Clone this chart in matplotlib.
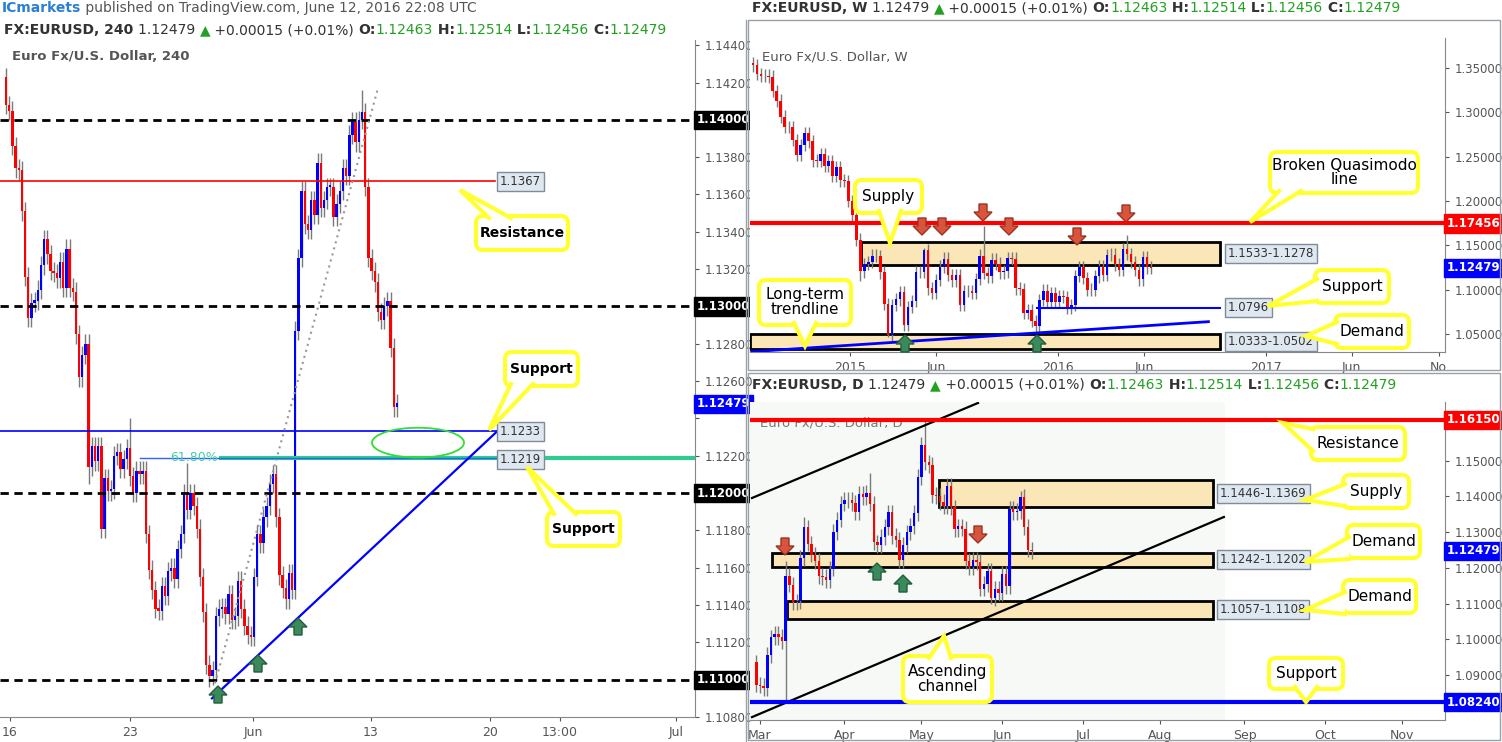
import numpy as np
import pandas as pd
import matplotlib
matplotlib.use("Agg")
import matplotlib.pyplot as plt
from matplotlib.patches import Rectangle, Ellipse, FancyBboxPatch, Polygon
import matplotlib.transforms as mtrans
import matplotlib.dates as mdates

plt.rcParams['font.family'] = ['DejaVu Sans']

# ---------------- data ----------------
h4_open0 = 1.1423
h4_close = [1.1408,1.1405,1.1386,1.1374,1.1373,1.1351,1.1316,1.1294,1.1302,1.1303,
            1.1309,1.1322,1.1336,1.1328,1.1319,1.1318,1.1315,1.1324,1.1310,1.1331,
            1.1310,1.1308,1.1285,1.1262,1.1274,1.1280,1.1214,1.1225,1.1217,1.1225,
            1.1181,1.1208,1.1201,1.1202,1.1220,1.1222,1.1213,1.1218,1.1224,1.1209,
            1.1200,1.1212,1.1210,1.1212,1.1178,1.1159,1.1148,1.1138,1.1137,1.1150,
            1.1145,1.1158,1.1160,1.1154,1.1170,1.1178,1.1200,1.1191,1.1200,1.1193,
            1.1181,1.1155,1.1136,1.1108,1.1102,1.1105,1.1134,1.1138,1.1139,1.1135,
            1.1146,1.1132,1.1134,1.1153,1.1138,1.1129,1.1124,1.1123,1.1155,1.1178,
            1.1173,1.1187,1.1193,1.1205,1.1210,1.1187,1.1156,1.1149,1.1143,1.1157,
            1.1148,1.1287,1.1326,1.1362,1.1344,1.1341,1.1357,1.1349,1.1377,1.1353,
            1.1357,1.1364,1.1364,1.1348,1.1355,1.1362,1.1374,1.1370,1.1392,1.1399,
            1.1388,1.1400,1.1404,1.1364,1.1326,1.1319,1.1313,1.1297,1.1293,1.1300,
            1.1303,1.1278,1.1246,1.1248]
h4_wick_over = {0: (1.1428, None), 64: (None, 1.1096), 112: (1.1416, None),
                39: (1.1240, None), 57: (1.1216, None), 26: (None, 1.1205)}
h4_xticks = ["16", "23", "Jun", "13", "20", "13:00", "Jul"]

w_open0 = 1.3555
w_close = [1.3525,1.3430,1.3410,1.3410,1.3400,1.3240,1.3130,1.2950,1.2830,1.2835,1.2685,1.2520,
           1.2630,1.2760,1.2670,1.2455,1.2450,1.2525,1.2390,1.2450,1.2285,1.2380,1.2230,1.2225,1.2000,
           1.1840,1.1565,1.1205,1.1290,1.1315,1.1385,1.1380,1.1195,1.0840,1.0495,1.0825,1.0890,1.0970,
           1.0600,1.0805,1.0870,1.1200,1.1200,1.1445,1.1015,1.0960,1.1110,1.1260,1.1350,1.1165,1.1105,
           1.1160,1.0830,1.0985,1.0985,1.0965,1.1120,1.1385,1.1185,1.1150,1.1340,1.1295,1.1195,1.1205,
           1.1360,1.1350,1.1015,1.1005,1.0740,1.0770,1.0645,1.0590,1.0885,1.0990,1.0865,1.0965,1.0860,
           1.0925,1.0915,1.0795,1.0830,1.1155,1.1255,1.1130,1.1000,1.1000,1.1150,1.1270,1.1165,1.1390,
           1.1395,1.1285,1.1225,1.1455,1.1405,1.1310,1.1225,1.1115,1.1365,1.1250,1.1248]
w_wick_over = {34: (None, 1.0462), 58: (1.1714, None), 94: (1.1616, None), 72: (None, 1.0524),
               27: (None, 1.1098), 43: (1.1467, None)}

d_open0 = 1.0935
d_close = [1.0873,
           1.0870,1.0864,1.0955,1.1005,1.1014,1.1007,1.0995,1.1177,1.1153,1.1105,1.1106,1.1227,1.1313,
           1.1268,1.1237,1.1220,1.1178,1.1174,1.1165,1.1198,1.1300,1.1335,1.1380,
           1.1390,1.1391,1.1382,1.1357,1.1408,1.1398,1.1409,1.1380,1.1271,1.1263,1.1286,1.1314,1.1355,
           1.1289,1.1279,1.1222,1.1263,1.1299,1.1317,1.1353,1.1455,
           1.1545,1.1495,1.1488,1.1403,1.1402,1.1384,1.1372,1.1429,1.1369,1.1309,1.1316,1.1310,1.1219,
           1.1201,1.1223,1.1217,1.1142,1.1155,1.1192,1.1116,1.1142,1.1130,
           1.1184,1.1150,1.1366,1.1357,1.1359,1.1399,1.1315,1.1251,1.1248]
d_wick_over = {8: (1.1218, 1.0822), 46: (1.1616, None), 31: (1.1465, None), 72: (1.1416, None),
               13: (1.1342, None), 64: (None, 1.1098)}
d_months = ["Mar", "Apr", "May", "Jun", "Jul", "Aug", "Sep", "Oct", "Nov"]

RED = "#ff0000"
BLUE = "#0000ff"
W, H = 1502, 742

fig = plt.figure(figsize=(W / 100, H / 100), dpi=100)
fig.patch.set_facecolor("white")


def add_ax(x0, y0, x1, y1):
    return fig.add_axes([x0 / W, 1 - y1 / H, (x1 - x0) / W, (y1 - y0) / H])


def ohlc(open0, closes, wick, over):
    c = np.array(closes)
    o = np.concatenate([[open0], c[:-1]])
    h = np.maximum(o, c) + wick
    l = np.minimum(o, c) - wick
    for k, (hh, ll) in over.items():
        if hh is not None:
            h[k] = hh
        if ll is not None:
            l[k] = ll
    return o, h, l, c


def candles(ax, x, o, h, l, c, width):
    cols = np.where(c >= o, BLUE, RED)
    ax.vlines(x, l, h, color="#7a7a7a", lw=1, zorder=3)
    ax.bar(x, np.maximum(np.abs(c - o), 0.00012), bottom=np.minimum(o, c), width=width,
           color=cols, zorder=4, linewidth=0)


def style_price_axis(ax, ticks, hide=()):
    ax.yaxis.tick_right()
    ax.set_yticks(ticks)
    ax.set_yticklabels(["" if any(abs(t - hh) < 1e-6 for hh in hide) else "%.5f" % t for t in ticks])
    ax.tick_params(axis="y", labelsize=8.5, colors="#555555", length=3, pad=4)
    ax.tick_params(axis="x", labelsize=9, colors="#555555", length=3)
    for s in ["top", "left"]:
        ax.spines[s].set_visible(False)
    for s in ["right", "bottom"]:
        ax.spines[s].set_color("#888888")


def tag(ax, price, text, fc, fs=8.5):
    ax.annotate(text, xy=(1.0, price), xycoords=("axes fraction", "data"),
                xytext=(1, 0), textcoords="offset points", va="center", ha="left",
                fontsize=fs, fontweight="bold", color="white", zorder=20,
                bbox=dict(boxstyle="square,pad=0.22", fc=fc, ec=fc), annotation_clip=False)


def box_label(ax, xfrac, price, text):
    tr = mtrans.blended_transform_factory(ax.transAxes, ax.transData)
    ax.text(xfrac, price, text, transform=tr, fontsize=8.5, color="#333333", va="center",
            ha="left", zorder=15,
            bbox=dict(boxstyle="square,pad=0.25", fc="#dfe8f0", ec="#7f8c99", lw=1))

# ---------------- 4H panel ----------------
ax1 = add_ax(0, 40, 695, 717)
n4 = len(h4_close)
sp = 391 / (n4 - 1)
x4 = np.arange(n4)
o, h, l, c = ohlc(h4_open0, h4_close, 0.0005, h4_wick_over)
candles(ax1, x4, o, h, l, c, 0.75)
ax1.set_xlim(-6 / sp, 689 / sp)
ax1.set_ylim(1.108075, 1.144278)
style_price_axis(ax1, np.round(np.arange(1.108, 1.1441, 0.002), 3), hide=(1.14, 1.13, 1.12, 1.11, 1.124))
ax1.set_xticks([(px - 6) / sp for px in [10, 130, 253, 371, 490, 560, 676]])
ax1.set_xticklabels(h4_xticks)
for lv in [1.14, 1.13, 1.12, 1.11]:
    ax1.axhline(lv, color="black", lw=2, ls=(0, (3, 2)), zorder=5)
    tag(ax1, lv, "%.5f" % lv, "black")
ax1.axhline(1.1367, xmax=495 / 695, color=RED, lw=1.2, zorder=5)
ax1.axhline(1.1233, xmax=497 / 695, color=BLUE, lw=1.2, zorder=5)
ax1.axhline(1.1219, xmin=221 / 695, color="#2ecc8f", lw=3, zorder=5)
ax1.axhline(1.1219, xmin=140 / 695, xmax=497 / 695, color="#3060ff", lw=1, zorder=6)
ax1.text((170 - 6) / sp, 1.1219, "61.80%", color="#40d0a0", fontsize=9, va="center", zorder=6)
ax1.plot([(215 - 6) / sp, (378 - 6) / sp], [1.1098, 1.1417], color="#999999", lw=1.5,
         ls=(0, (1, 2)), zorder=5)
ax1.plot([(212 - 6) / sp, (497 - 6) / sp], [1.1090, 1.1233], color=BLUE, lw=1.6, zorder=6)
ax1.add_patch(Ellipse(((418 - 6) / sp, 1.1227), 92 / sp, 0.0016, fill=False, ec="#33dd33",
                      lw=1.3, zorder=7))
box_label(ax1, 500 / 695, 1.1367, "1.1367")
box_label(ax1, 500 / 695, 1.1233, "1.1233")
box_label(ax1, 500 / 695, 1.1219 - 0.0001, "1.1219")
tag(ax1, 1.12479, "1.12479", BLUE)
ax1.text(12 / 695, 0.975, "Euro Fx/U.S. Dollar, 240", transform=ax1.transAxes, fontsize=9.5,
         color="#555555", va="center", fontweight="bold")

# ---------------- Weekly panel ----------------
ax2 = add_ax(750, 38, 1445, 352)
nw = len(w_close)
wd = pd.date_range(end="2016-06-13", periods=nw, freq="7D")
xw = mdates.date2num(wd)
o, h, l, c = ohlc(w_open0, w_close, 0.007, w_wick_over)
candles(ax2, xw, o, h, l, c, 4.5)
ax2.set_xlim(mdates.date2num(pd.Timestamp("2014-07-09")), mdates.date2num(pd.Timestamp("2017-11-12")))
ax2.set_ylim(1.02984, 1.38345)
style_price_axis(ax2, [1.05, 1.10, 1.15, 1.20, 1.25, 1.30, 1.35])
wt = ["2015-01-01", "2015-06-01", "2016-01-01", "2016-06-01", "2017-01-01", "2017-06-01", "2017-11-01"]
ax2.set_xticks(mdates.date2num(pd.to_datetime(wt)))
ax2.set_xticklabels(["2015", "Jun", "2016", "Jun", "2017", "Jun", "No"])
zr = mdates.date2num(pd.Timestamp("2016-10-13"))
zl = mdates.date2num(pd.Timestamp("2015-01-20"))
x0w = ax2.get_xlim()[0]
ax2.add_patch(Rectangle((zl, 1.1278), zr - zl, 0.1533 - 0.1278, fc="#fbe6b8", ec="black", lw=2, zorder=2))
ax2.add_patch(Rectangle((x0w, 1.0333), zr - x0w, 0.0169, fc="#fbe6b8", ec="black", lw=2, zorder=2))
ax2.axhline(1.17456, color=RED, lw=3, zorder=5)
sl = mdates.date2num(pd.Timestamp("2015-11-26"))
ax2.plot([sl, zr], [1.0796, 1.0796], color=BLUE, lw=1.5, zorder=5)
ax2.plot([mdates.date2num(pd.Timestamp("2014-07-12")), mdates.date2num(pd.Timestamp("2016-09-22"))],
         [1.0302, 1.0640], color=BLUE, lw=2, zorder=6)
box_label(ax2, 0.688, 1.1405, "1.1533-1.1278")
box_label(ax2, 0.688, 1.0796, "1.0796")
box_label(ax2, 0.688, 1.0418, "1.0333-1.0502")
tag(ax2, 1.17456, "1.17456", RED)
tag(ax2, 1.12479, "1.12479", BLUE)
ax2.text(12 / 695, 0.94, "Euro Fx/U.S. Dollar, W", transform=ax2.transAxes, fontsize=9.5,
         color="#555555", va="center")

# ---------------- Daily panel ----------------
ax3 = add_ax(750, 402, 1445, 720)
nd = len(d_close)
dd = pd.bdate_range("2016-02-29", periods=nd)
xd = np.array([np.busday_count(np.datetime64("2016-03-01"), np.datetime64(d.date())) for d in dd])
o, h, l, c = ohlc(d_open0, d_close, 0.0022, d_wick_over)
ax3.add_patch(Rectangle((-5, 1.07), 131.7, 0.1, fc="#f7f9f6", ec="none", zorder=0))
candles(ax3, xd, o, h, l, c, 0.65)
ax3.set_xlim(-10 / 3.67, 685 / 3.67)
ax3.set_ylim(1.07737, 1.16644)
style_price_axis(ax3, [1.08, 1.09, 1.10, 1.11, 1.12, 1.13, 1.14, 1.15], hide=(1.08,))
ms = ["2016-03-01", "2016-04-01", "2016-05-02", "2016-06-01", "2016-07-01", "2016-08-01",
      "2016-09-01", "2016-10-03", "2016-11-01"]
ax3.set_xticks([np.busday_count(np.datetime64("2016-03-01"), np.datetime64(m)) for m in ms])
ax3.set_xticklabels(d_months)
ax3.text(10 / 695, 0.935, "Euro Fx/U.S. Dollar, D", transform=ax3.transAxes, fontsize=9.5,
         color="#777777", va="center", zorder=1)
ax3.add_patch(Rectangle((48.8, 1.1369), 74.6, 0.0077, fc="#fbe6b8", ec="black", lw=2, zorder=2))
ax3.add_patch(Rectangle((3.3, 1.1202), 120.1, 0.0040, fc="#fbe6b8", ec="black", lw=2, zorder=2))
ax3.add_patch(Rectangle((7.4, 1.1057), 116.0, 0.0051, fc="#fbe6b8", ec="black", lw=2, zorder=2))
ax3.plot([-2.18, 59.4], [1.13955, 1.16617], color="black", lw=1.6, zorder=5)
ax3.plot([-2.18, 126.4], [1.07818, 1.13423], color="black", lw=1.6, zorder=5)
ax3.axhline(1.1615, color=RED, lw=3, zorder=6)
ax3.axhline(1.0824, color=BLUE, lw=3, zorder=6)
box_label(ax3, 0.676, 1.1407, "1.1446-1.1369")
box_label(ax3, 0.676, 1.1222, "1.1242-1.1202")
box_label(ax3, 0.676, 1.1082, "1.1057-1.1108")
tag(ax3, 1.1615, "1.16150", RED)
tag(ax3, 1.12479, "1.12479", BLUE)
tag(ax3, 1.0824, "1.08240", BLUE)

# ---------------- overlay ----------------
ov = fig.add_axes([0, 0, 1, 1], zorder=50)
ov.set_xlim(0, W)
ov.set_ylim(H, 0)
ov.axis("off")
ov.patch.set_alpha(0)

for (a, b, cc, d) in [(748, 20, 1500, 370), (748, 373, 1500, 740)]:
    ov.add_patch(Rectangle((a, b), cc - a, d - b, fill=False, ec="#9aa0a6", lw=1))
ov.plot([746, 746], [20, 742], color="#9aa0a6", lw=1)

renderer = fig.canvas.get_renderer()


def pieces(x, y, parts, fs=10):
    for txt, col, wt in parts:
        t = ov.text(x, y, txt, color=col, fontsize=fs, fontweight=wt, va="center", ha="left")
        bb = t.get_window_extent(renderer=renderer)
        x += bb.width


G = "#22a022"
K = "#333333"


def header(x, y, tf):
    pieces(x, y, [("FX:EURUSD, %s " % tf, K, "bold"), ("1.12479 ", K, "normal"), ("▲", G, "normal"),
                  (" +0.00015 (+0.01%) ", K, "normal"), ("O:", K, "bold"), ("1.12463", G, "normal"),
                  (" H:", K, "bold"), ("1.12514", G, "normal"), (" L:", K, "bold"),
                  ("1.12456", G, "normal"), (" C:", K, "bold"), ("1.12479", G, "normal")])


pieces(2, 8, [("ICmarkets", "#2a7fd4", "bold"),
              (" published on TradingView.com, June 12, 2016 22:08 UTC", "#555555", "normal")])
header(4, 30, "240")
header(752, 8, "W")
header(752, 385, "D")

YEL = "#ffff33"


def callout(x0, y0, x1, y1, tip, side, pos, text, fs=11, bold=False, bw=22):
    if side == "b":
        b1, b2 = (pos - bw / 2, y1 - 2), (pos + bw / 2, y1 - 2)
    elif side == "t":
        b1, b2 = (pos - bw / 2, y0 + 2), (pos + bw / 2, y0 + 2)
    elif side == "l":
        b1, b2 = (x0 + 2, pos - bw / 2), (x0 + 2, pos + bw / 2)
    else:
        b1, b2 = (x1 - 2, pos - bw / 2), (x1 - 2, pos + bw / 2)
    ov.add_patch(FancyBboxPatch((x0, y0), x1 - x0, y1 - y0, boxstyle="round,pad=0,rounding_size=7",
                                fc="white", ec=YEL, lw=3, zorder=2))
    ov.add_patch(Polygon([tip, b1, b2], closed=True, fc="white", ec="none", zorder=3))
    ov.plot([b1[0], tip[0], b2[0]], [b1[1], tip[1], b2[1]], color=YEL, lw=3, zorder=4,
            solid_joinstyle="miter")
    ov.text((x0 + x1) / 2, (y0 + y1) / 2, text, ha="center", va="center", fontsize=fs,
            fontweight="bold" if bold else "normal", color="black", zorder=5, linespacing=1.0)


callout(476, 216, 568, 250, (460, 190), "t", 500, "Resistance", fs=10, bold=True)
callout(505, 352, 578, 386, (489, 430), "b", 522, "Support", fs=10, bold=True)
callout(547, 512, 620, 546, (527, 467), "t", 565, "Support", fs=10, bold=True)
callout(855, 180, 922, 213, (890, 243), "b", 890, "Supply")
callout(1270, 152, 1418, 193, (1250, 222), "b", 1290, "Broken Quasimodo\nline")
callout(1315, 270, 1389, 303, (1268, 306), "l", 290, "Support")
callout(1335, 315, 1409, 348, (1306, 336), "l", 333, "Demand")
callout(759, 280, 851, 325, (805, 346), "b", 805, "Long-term\ntrendline")
callout(1311, 427, 1405, 460, (1283, 423), "l", 440, "Resistance")
callout(1343, 475, 1409, 508, (1305, 500), "l", 495, "Supply")
callout(1347, 525, 1420, 558, (1305, 562), "l", 548, "Demand")
callout(1343, 580, 1416, 613, (1305, 610), "l", 603, "Demand")
callout(1269, 658, 1343, 689, (1306, 702), "b", 1306, "Support")
callout(903, 656, 992, 702, (944, 636), "t", 940, "Ascending\nchannel")


def arrow(cx, cy, up, col, ec):
    s = 1 if up else -1
    pts = [(cx, cy - s * 9), (cx + 9, cy), (cx + 4, cy), (cx + 4, cy + s * 8),
           (cx - 4, cy + s * 8), (cx - 4, cy), (cx - 9, cy)]
    ov.add_patch(Polygon(pts, closed=True, fc=col, ec=ec, lw=1, zorder=6))


GR, GRE = "#3a8a5e", "#245c3c"
RD, RDE = "#d9543d", "#9c3322"
for (cx, cy) in [(218, 695), (258, 664), (298, 627), (905, 344), (1037, 344), (877, 572), (903, 584)]:
    arrow(cx, cy, True, GR, GRE)
for (cx, cy) in [(922, 226), (942, 226), (983, 212), (1009, 226), (1077, 236), (1126, 213),
                 (785, 546), (978, 534)]:
    arrow(cx, cy, False, RD, RDE)

fig.savefig("out.png", dpi=100, facecolor="white")
